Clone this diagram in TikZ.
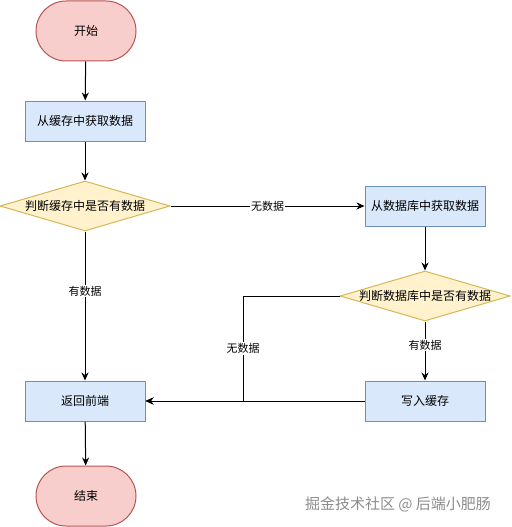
\documentclass[tikz,border=0pt]{standalone}
\usepackage{fontspec}
\setmainfont{Noto Sans CJK SC}
\usetikzlibrary{positioning,calc,arrows.meta,shapes.geometric}
\definecolor{termfill}{HTML}{F8CECC}
\definecolor{termline}{HTML}{B85450}
\definecolor{stepfill}{HTML}{DAE8FC}
\definecolor{stepline}{HTML}{6C8EBF}
\definecolor{askfill}{HTML}{FFF2CC}
\definecolor{askline}{HTML}{D6B656}

\begin{document}
\begin{tikzpicture}[x=1pt,y=-1pt,
  terminal/.style={rectangle,rounded corners=30pt,draw=termline,fill=termfill,line width=1pt,
    minimum width=100pt,minimum height=60pt,font=\fontsize{12}{14}\selectfont},
  stepbox/.style={rectangle,draw=stepline,fill=stepfill,line width=1pt,
    minimum width=120pt,minimum height=40pt,font=\fontsize{12}{14}\selectfont},
  askbox/.style={diamond,shape aspect=3.4,inner xsep=-12pt,inner ysep=0pt,draw=askline,fill=askfill,line width=1pt,
    minimum width=170pt,minimum height=50pt,font=\fontsize{12}{14}\selectfont},
  flow/.style={line width=1pt,-{Stealth[length=8pt,width=7pt]}},
  edgelabel/.style={fill=white,inner sep=1pt,font=\fontsize{11}{13}\selectfont}]
\useasboundingbox (0,0) rectangle (511,527);
% nodes
\node[terminal] (start) at (86,31) {开始};
\node[stepbox] (fetchcache) at (85,121) {从缓存中获取数据};
\node[askbox] (checkcache) at (85,206) {判断缓存中是否有数据};
\node[stepbox] (fetchdb) at (425,206) {从数据库中获取数据};
\node[askbox] (checkdb) at (425,296) {判断数据库中是否有数据};
\node[stepbox] (writecache) at (425,401) {写入缓存};
\node[stepbox] (reply) at (85,401) {返回前端};
\node[terminal] (stop) at (86,496) {结束};
\coordinate (bend) at (243,296);
% connectors
\draw[flow] (start) -- (fetchcache);
\draw[flow] (fetchcache) -- (checkcache);
\draw[flow] (checkcache) -- node[edgelabel]{无数据} (fetchdb);
\draw[flow] (checkcache) -- node[edgelabel,pos=0.4]{有数据} (reply);
\draw[flow] (fetchdb) -- (checkdb);
\draw[flow] (checkdb) -- node[edgelabel,pos=0.4]{有数据} (writecache);
\draw[flow] (checkdb) -- (bend) -- node[edgelabel]{无数据} (bend |- reply) -- (reply);
\draw[flow] (writecache) -- (reply);
\draw[flow] (reply) -- (stop);
% watermark
\node[text=black!45,font=\fontsize{15}{17}\selectfont] (mark) at (398,504) {掘金技术社区 @ 后端小肥肠};
\end{tikzpicture}
\end{document}
